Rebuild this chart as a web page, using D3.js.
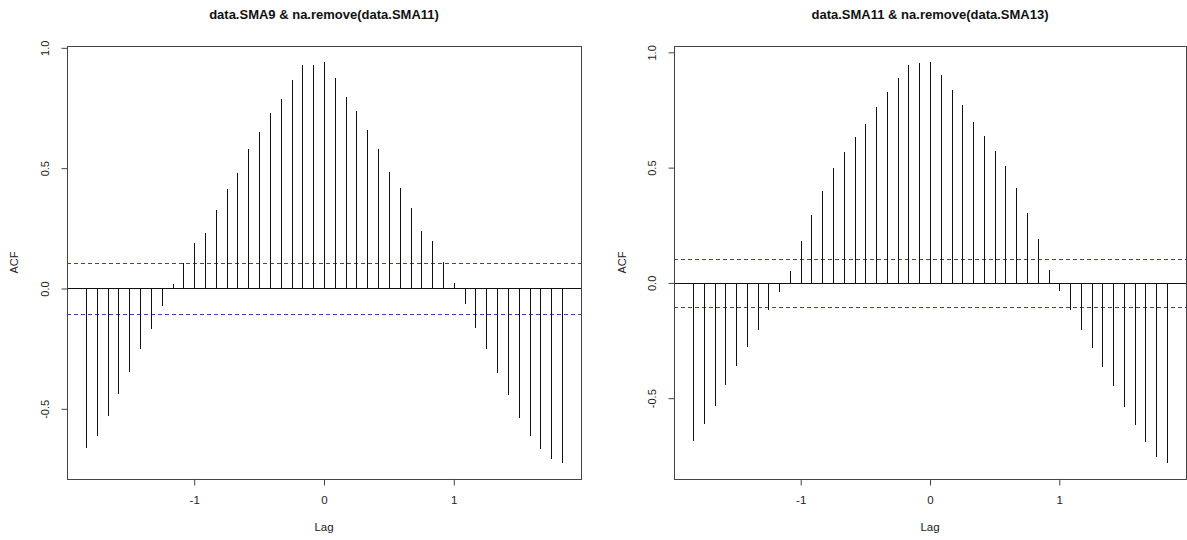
<!DOCTYPE html>
<html>
<head>
<meta charset="utf-8">
<script src="https://cdn.jsdelivr.net/npm/d3@7/dist/d3.min.js"></script>
<style>
  html, body { margin: 0; padding: 0; background: #fff; }
  svg { display: block; font-family: "Liberation Sans", Arial, sans-serif; }
</style>
</head>
<body>
<svg id="chart" width="1187" height="540"></svg>
<script>
// Lags in years (monthly data, frequency 12): -22/12 ... 22/12
const lagIndex = d3.range(-22, 23);
const frequency = 12;

const titles = ["data.SMA9 & na.remove(data.SMA11)", "data.SMA11 & na.remove(data.SMA13)"];
const yTicks = [-0.5, 0.0, 0.5, 1.0];
const xTicks = [-1, 0, 1];
const ciLevels = [0.104, 0.104];

// Cross-correlation values, lag -22 .. +22
const acfLeft = [
  -0.663, -0.611, -0.529, -0.438, -0.348, -0.252, -0.167, -0.071,
  0.019, 0.105, 0.187, 0.232, 0.326, 0.412, 0.481, 0.578, 0.651, 0.730, 0.786, 0.865, 0.930, 0.927,
  0.941,
  0.876, 0.796, 0.738, 0.658, 0.579, 0.486, 0.417, 0.333, 0.239, 0.196, 0.111, 0.022,
  -0.066, -0.163, -0.252, -0.352, -0.443, -0.539, -0.615, -0.666, -0.709, -0.725
];
const acfRight = [
  -0.686, -0.611, -0.534, -0.444, -0.361, -0.278, -0.206, -0.116, -0.041,
  0.051, 0.181, 0.296, 0.398, 0.498, 0.566, 0.632, 0.690, 0.765, 0.827, 0.890, 0.946, 0.953,
  0.958,
  0.903, 0.835, 0.770, 0.696, 0.638, 0.573, 0.508, 0.413, 0.303, 0.190, 0.057,
  -0.037, -0.116, -0.203, -0.281, -0.365, -0.447, -0.538, -0.618, -0.690, -0.755, -0.781
];

const svg = d3.select("#chart");

function extendRange(lo, hi) {
  const d = (hi - lo) * 0.04;
  return [lo - d, hi + d];
}
const snap = v => Math.round(v) + 0.5;

function drawPanel(cfg) {
  const { left, right, top, bottom, values, title, ci, ylabX } = cfg;
  const lags = lagIndex.map(k => k / frequency);
  const x = d3.scaleLinear()
    .domain(extendRange(d3.min(lags), d3.max(lags)))
    .range([left, right]);
  const y = d3.scaleLinear()
    .domain(extendRange(Math.min(d3.min(values), -ci), Math.max(d3.max(values), ci)))
    .range([bottom, top]);

  const g = svg.append("g");

  // CI dashed lines
  [ci, -ci].forEach(c => {
    g.append("line")
      .attr("x1", left).attr("x2", right)
      .attr("y1", snap(y(c))).attr("y2", snap(y(c)))
      .attr("stroke", "#3b3bc0").attr("stroke-width", 1)
      .attr("shape-rendering", "crispEdges")
      .attr("stroke-dasharray", "4,3");
  });

  // zero line
  g.append("line")
    .attr("x1", left).attr("x2", right)
    .attr("y1", snap(y(0))).attr("y2", snap(y(0)))
    .attr("stroke", "#111").attr("stroke-width", 1)
    .attr("shape-rendering", "crispEdges");

  // spikes
  g.selectAll("line.spike")
    .data(values.map((v, i) => ({ lag: lags[i], v })))
    .enter().append("line")
    .attr("class", "spike")
    .attr("x1", d => snap(x(d.lag))).attr("x2", d => snap(x(d.lag)))
    .attr("y1", snap(y(0))).attr("y2", d => y(d.v))
    .attr("stroke", "#111").attr("stroke-width", 1)
    .attr("shape-rendering", "crispEdges");

  // box
  g.append("rect")
    .attr("x", left + 0.5).attr("y", top + 0.5)
    .attr("width", right - left).attr("height", bottom - top)
    .attr("fill", "none").attr("stroke", "#444").attr("stroke-width", 1)
    .attr("shape-rendering", "crispEdges");

  // x axis
  const xAxis = d3.axisBottom(x).tickValues(xTicks).tickSize(6).tickPadding(10)
    .tickFormat(d3.format("d"));
  const gx = g.append("g").attr("transform", `translate(0,${bottom + 0.5})`).call(xAxis);
  gx.select(".domain").attr("d", `M${x(xTicks[0])},0H${x(xTicks[xTicks.length - 1])}`).attr("stroke", "#444");
  gx.selectAll(".tick line").attr("stroke", "#444");
  gx.selectAll(".tick text").attr("font-size", 11.5).attr("fill", "#222")
    .text(d => d < 0 ? "-" + Math.abs(d) : d);

  // y axis
  const yAxis = d3.axisLeft(y).tickValues(yTicks).tickSize(6).tickFormat(d3.format(".1f"));
  const gy = g.append("g").attr("transform", `translate(${left + 0.5},0)`).call(yAxis);
  gy.select(".domain").attr("d", `M0,${y(yTicks[0])}V${y(yTicks[yTicks.length - 1])}`).attr("stroke", "#444");
  gy.selectAll(".tick line").attr("stroke", "#444");
  gy.selectAll(".tick text")
    .attr("font-size", 11).attr("fill", "#222")
    .attr("x", null).attr("dy", null)
    .attr("text-anchor", "middle")
    .attr("transform", "translate(-19,0) rotate(-90)")
    .text(d => d < 0 ? "-" + d3.format(".1f")(Math.abs(d)) : d3.format(".1f")(d));

  // title
  g.append("text")
    .attr("x", (left + right) / 2).attr("y", 19)
    .attr("text-anchor", "middle")
    .attr("font-size", 13).attr("font-weight", "bold").attr("fill", "#111")
    .text(title);

  // axis labels
  g.append("text")
    .attr("x", (left + right) / 2).attr("y", 531)
    .attr("text-anchor", "middle")
    .attr("font-size", 11.5).attr("fill", "#222")
    .text("Lag");
  g.append("text")
    .attr("transform", `translate(${ylabX},${(top + bottom) / 2}) rotate(-90)`)
    .attr("text-anchor", "middle")
    .attr("font-size", 11).attr("fill", "#222")
    .text("ACF");
}

drawPanel({ left: 67, right: 581, top: 46, bottom: 479, values: acfLeft, title: titles[0], ci: ciLevels[0], ylabX: 18 });
drawPanel({ left: 674, right: 1186, top: 46, bottom: 479, values: acfRight, title: titles[1], ci: ciLevels[1], ylabX: 626 });
</script>
</body>
</html>
